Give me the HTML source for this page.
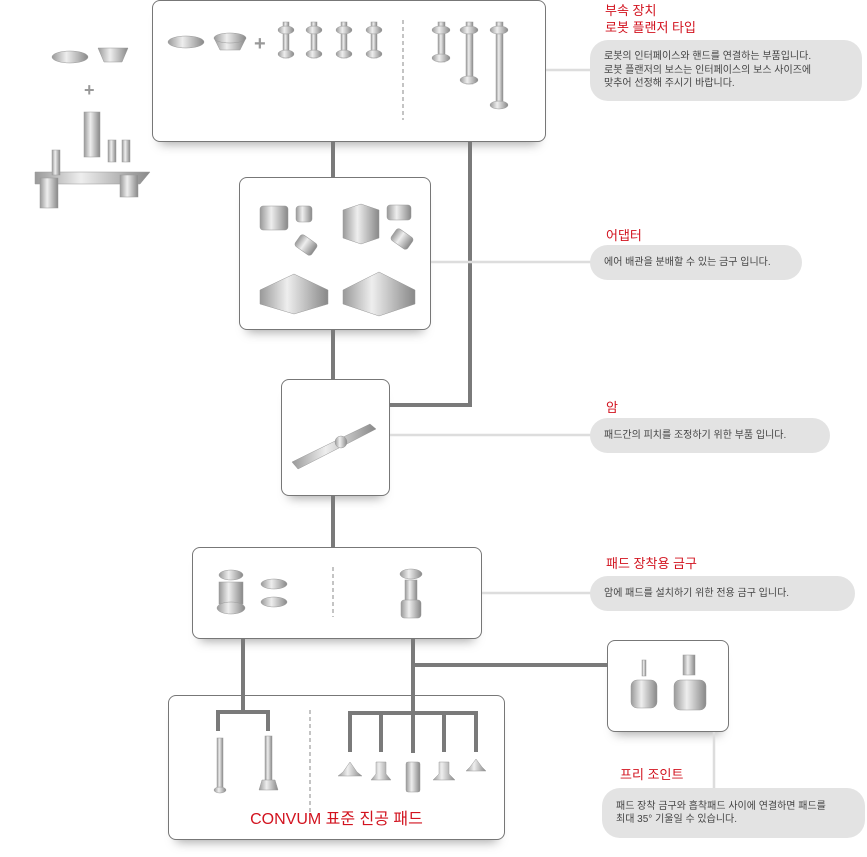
<!DOCTYPE html>
<html><head><meta charset="utf-8"><style>
body{margin:0;width:867px;height:857px;background:#fff;position:relative;overflow:hidden;font-family:"Liberation Sans","Noto Sans CJK KR",sans-serif}
.box{position:absolute;border:1.5px solid #777;border-radius:8px;background:#fff;box-sizing:border-box;box-shadow:0 10px 10px -8px rgba(0,0,0,.35)}
.t{position:absolute;color:#d2131f;font-size:13px;line-height:17px}
.b{position:absolute;background:#e3e3e3;border-radius:18px;font-size:10px;color:#444;line-height:13.5px;box-sizing:border-box;padding:0 14px;display:flex;align-items:center}
svg{position:absolute;left:0;top:0}
</style></head><body>
<div class="box" style="left:152px;top:0;width:394px;height:142px"></div>
<div class="box" style="left:239px;top:177px;width:192px;height:153px"></div>
<div class="box" style="left:281px;top:379px;width:109px;height:117px"></div>
<div class="box" style="left:192px;top:547px;width:290px;height:92px"></div>
<div class="box" style="left:168px;top:695px;width:337px;height:145px"></div>
<div class="box" style="left:607px;top:640px;width:122px;height:92px"></div>
<svg width="867" height="857">
<defs><linearGradient id="g" x1="0" x2="1"><stop offset="0" stop-color="#999"/><stop offset=".4" stop-color="#eee"/><stop offset="1" stop-color="#888"/></linearGradient></defs>
<g stroke="#7a7a7a" stroke-width="4" fill="none">
<path d="M333 142V177M333 330V379M470 142V405H390M333 496V547"/>
<path d="M243 639V712M218 731V712H268V731"/>
<path d="M413 639V753M350 752V713H476V752M381 713V752M444 713V752M413 665H607"/>
</g>
<g stroke="#ddd" stroke-width="2.5" fill="none">
<path d="M546 70H592M431 262H592M390 435H592M482 593H592M714 732V790"/>
</g>
<g stroke="#888" stroke-width="1" stroke-dasharray="4 3"><path d="M403 20V120M333 567V617M310 710V815"/></g>
<g fill="url(#g)" stroke="#999" stroke-width=".5">
<!-- box1 -->
<ellipse cx="186" cy="42" rx="18" ry="6"/><path d="M214 38h32l-6 12h-20z"/><ellipse cx="230" cy="38" rx="16" ry="5"/>
<text x="254" y="50" font-size="20" fill="#999" stroke="none" font-weight="bold">+</text>
<rect x="283" y="22" width="6" height="36"/><ellipse cx="286" cy="30" rx="8" ry="4"/><ellipse cx="286" cy="54" rx="8" ry="4"/>
<rect x="311" y="22" width="6" height="36"/><ellipse cx="314" cy="30" rx="8" ry="4"/><ellipse cx="314" cy="54" rx="8" ry="4"/>
<rect x="341" y="22" width="6" height="36"/><ellipse cx="344" cy="30" rx="8" ry="4"/><ellipse cx="344" cy="54" rx="8" ry="4"/>
<rect x="371" y="22" width="6" height="36"/><ellipse cx="374" cy="30" rx="8" ry="4"/><ellipse cx="374" cy="54" rx="8" ry="4"/>
<rect x="438" y="22" width="7" height="40"/><ellipse cx="441" cy="30" rx="9" ry="4"/><ellipse cx="441" cy="58" rx="9" ry="4"/>
<rect x="466" y="22" width="7" height="62"/><ellipse cx="469" cy="30" rx="9" ry="4"/><ellipse cx="469" cy="80" rx="9" ry="4"/>
<rect x="496" y="22" width="7" height="86"/><ellipse cx="499" cy="30" rx="9" ry="4"/><ellipse cx="499" cy="105" rx="9" ry="4"/>
<!-- left assembly -->
<ellipse cx="70" cy="57" rx="18" ry="6"/><path d="M98 48h30l-6 14h-18z"/>
<text x="84" y="96" font-size="18" fill="#999" stroke="none" font-weight="bold">+</text>
<rect x="84" y="112" width="16" height="45"/><path d="M35 172h115l-10 12h-105z"/><rect x="40" y="178" width="18" height="30"/><rect x="120" y="175" width="18" height="22"/><rect x="108" y="140" width="8" height="22"/><rect x="122" y="140" width="8" height="22"/><rect x="52" y="150" width="8" height="25"/>
<!-- box2 -->
<rect x="260" y="206" width="28" height="24" rx="3"/><rect x="296" y="206" width="16" height="16" rx="3"/><rect x="296" y="238" width="20" height="14" rx="3" transform="rotate(35 306 245)"/>
<path d="M343 210l18-6 18 6v28l-18 6-18-6z"/><rect x="387" y="205" width="24" height="15" rx="3"/><rect x="392" y="232" width="20" height="14" rx="3" transform="rotate(35 402 239)"/>
<path d="M260 290l34-16 34 16v14l-34 10-34-10z"/>
<path d="M343 290l36-18 36 18v14l-36 12-36-12z"/>
<!-- arm -->
<path d="M292 462l78-38 6 5-78 40z"/><circle cx="341" cy="442" r="6"/>
<!-- box4 -->
<ellipse cx="231" cy="575" rx="12" ry="5"/><rect x="219" y="582" width="24" height="22"/><ellipse cx="231" cy="608" rx="14" ry="6"/>
<ellipse cx="274" cy="584" rx="13" ry="5"/><ellipse cx="274" cy="602" rx="13" ry="5"/>
<ellipse cx="411" cy="574" rx="11" ry="5"/><rect x="405" y="580" width="12" height="22"/><rect x="401" y="600" width="20" height="18" rx="3"/>
<!-- box6 -->
<rect x="642" y="660" width="4" height="16"/><rect x="631" y="680" width="26" height="28" rx="6"/>
<rect x="683" y="655" width="12" height="20"/><rect x="674" y="680" width="32" height="30" rx="6"/>
<!-- pads -->
<rect x="217" y="738" width="6" height="52"/><ellipse cx="220" cy="790" rx="6" ry="3"/>
<rect x="265" y="736" width="7" height="50"/><path d="M262 780h13l3 10h-19z"/>
<path d="M343 772l7-10 7 10 5 4h-24z"/>
<path d="M376 762h10v12l5 6h-20l5-6z"/>
<rect x="406" y="762" width="14" height="30" rx="2"/>
<path d="M439 762h10v12l6 6h-22l6-6z"/>
<path d="M470 767l6-8 6 8 4 4h-20z"/>
</g>
</svg>
<div class="t" style="left:605px;top:2px">부속 장치<br>로봇 플랜저 타입</div>
<div class="b" style="left:590px;top:40px;width:272px;height:61px">로봇의 인터페이스와 핸드를 연결하는 부품입니다.<br>로봇 플랜저의 보스는 인터페이스의 보스 사이즈에<br>맞추어 선정해 주시기 바랍니다.</div>
<div class="t" style="left:606px;top:227px">어댑터</div>
<div class="b" style="left:590px;top:245px;width:212px;height:35px">에어 배관을 분배할 수 있는 금구 입니다.</div>
<div class="t" style="left:606px;top:399px">암</div>
<div class="b" style="left:590px;top:418px;width:240px;height:35px">패드간의 피치를 조정하기 위한 부품 입니다.</div>
<div class="t" style="left:606px;top:555px">패드 장착용 금구</div>
<div class="b" style="left:590px;top:576px;width:265px;height:35px">암에 패드를 설치하기 위한 전용 금구 입니다.</div>
<div class="t" style="left:620px;top:766px">프리 조인트</div>
<div class="b" style="left:602px;top:788px;width:263px;height:50px">패드 장착 금구와 흡착패드 사이에 연결하면 패드를<br>최대 35° 기울일 수 있습니다.</div>
<div class="t" style="left:168px;width:337px;text-align:center;top:810px;font-size:16px;line-height:20px">CONVUM 표준 진공 패드</div>
</body></html>
